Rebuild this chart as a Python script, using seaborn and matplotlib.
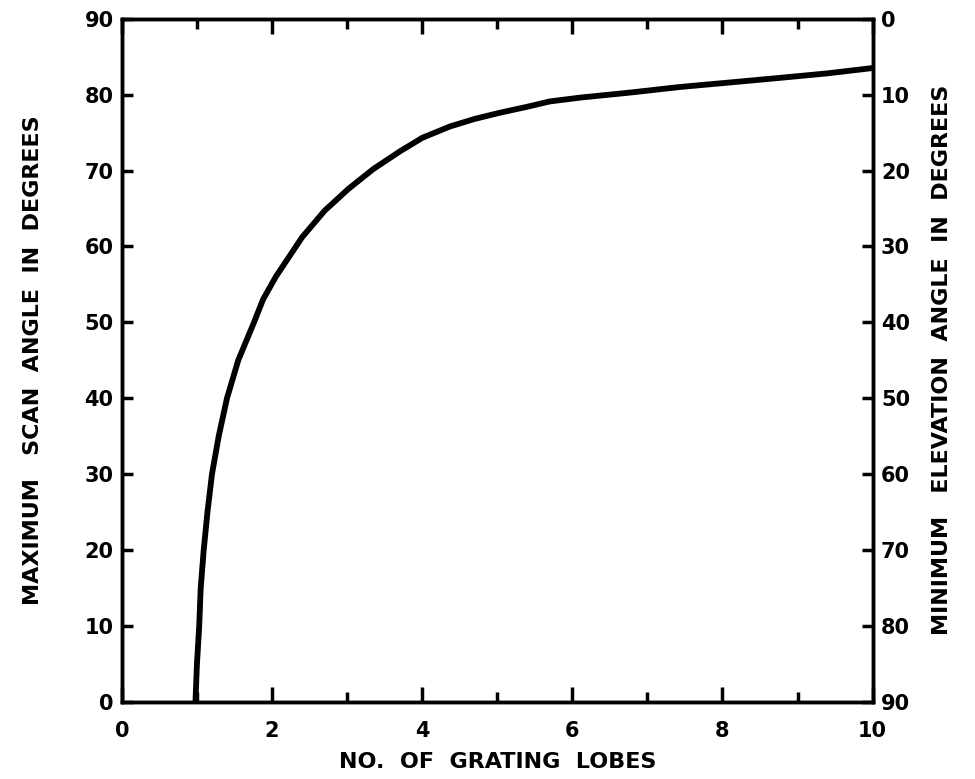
import matplotlib
matplotlib.use("Agg")
import matplotlib.pyplot as plt
import seaborn as sb
import pandas as pd

# values
lobes = [0.98, 1.00, 1.03, 1.05, 1.09, 1.14, 1.20, 1.29, 1.40, 1.55, 1.76, 1.88, 2.05,
         2.40, 2.70, 3.02, 3.35, 3.70, 4.00, 4.37, 4.70, 5.03, 5.40, 5.70, 6.10, 6.80,
         7.43, 8.10, 8.76, 9.40, 10.0]
scan_angle = [0, 5, 10, 15, 20, 25, 30, 35, 40, 45, 50, 53, 56,
              61.2, 64.7, 67.6, 70.2, 72.5, 74.3, 75.8, 76.8, 77.6, 78.4, 79.1, 79.6, 80.3,
              81.0, 81.6, 82.2, 82.8, 83.5]

x_major = [0, 2, 4, 6, 8, 10]
x_minor = [1, 3, 5, 7, 9]
y_ticks = [0, 10, 20, 30, 40, 50, 60, 70, 80, 90]

sb.set_style("ticks")
plt.rcParams['font.family'] = ['DejaVu Sans']
plt.rcParams['text.color'] = 'black'
plt.rcParams['axes.labelcolor'] = 'black'
plt.rcParams['axes.edgecolor'] = 'black'
plt.rcParams['xtick.color'] = 'black'
plt.rcParams['ytick.color'] = 'black'

df = pd.DataFrame({"lobes": lobes, "scan": scan_angle})

fig = plt.figure(figsize=(9.75, 7.79), dpi=100)
ax = fig.add_axes([0.125, 0.099, 0.77, 0.877])
sb.lineplot(data=df, x="lobes", y="scan", ax=ax, color="black", linewidth=4.2, sort=False,
            solid_joinstyle="round", solid_capstyle="butt")

ax.set_xlim(0, 10)
ax.set_ylim(0, 90)
ax.set_xticks(x_major)
ax.set_xticks(x_minor, minor=True)
ax.set_yticks(y_ticks)
ax.set_xticklabels([str(v) for v in x_major], fontsize=15, fontweight="bold")
ax.set_yticklabels([str(v) for v in y_ticks], fontsize=15, fontweight="bold")
ax.tick_params(axis="x", which="major", direction="in", length=11, width=2.5, top=True, pad=14)
ax.tick_params(axis="x", which="minor", direction="in", length=7, width=2.5, top=True)
ax.tick_params(axis="y", which="major", direction="in", length=8, width=2.5, pad=6)
for s in ax.spines.values():
    s.set_linewidth(2.5)
    s.set_color("black")

ax.set_xlabel("NO.  OF  GRATING  LOBES", fontsize=16, fontweight="bold", labelpad=8)
ax.set_ylabel("MAXIMUM   SCAN  ANGLE  IN  DEGREES", fontsize=16, fontweight="bold",
              labelpad=30)

ax2 = ax.twinx()
ax2.set_ylim(90, 0)
ax2.set_yticks(y_ticks)
ax2.set_yticklabels([str(v) for v in y_ticks], fontsize=15, fontweight="bold")
ax2.tick_params(axis="y", direction="in", length=8, width=2.5, pad=6)
ax2.set_ylabel("MINIMUM   ELEVATION  ANGLE  IN  DEGREES", fontsize=16, fontweight="bold",
               rotation=90, labelpad=16)
for s in ax2.spines.values():
    s.set_linewidth(2.5)
    s.set_color("black")

plt.savefig("out.png", dpi=100)
plt.close()
